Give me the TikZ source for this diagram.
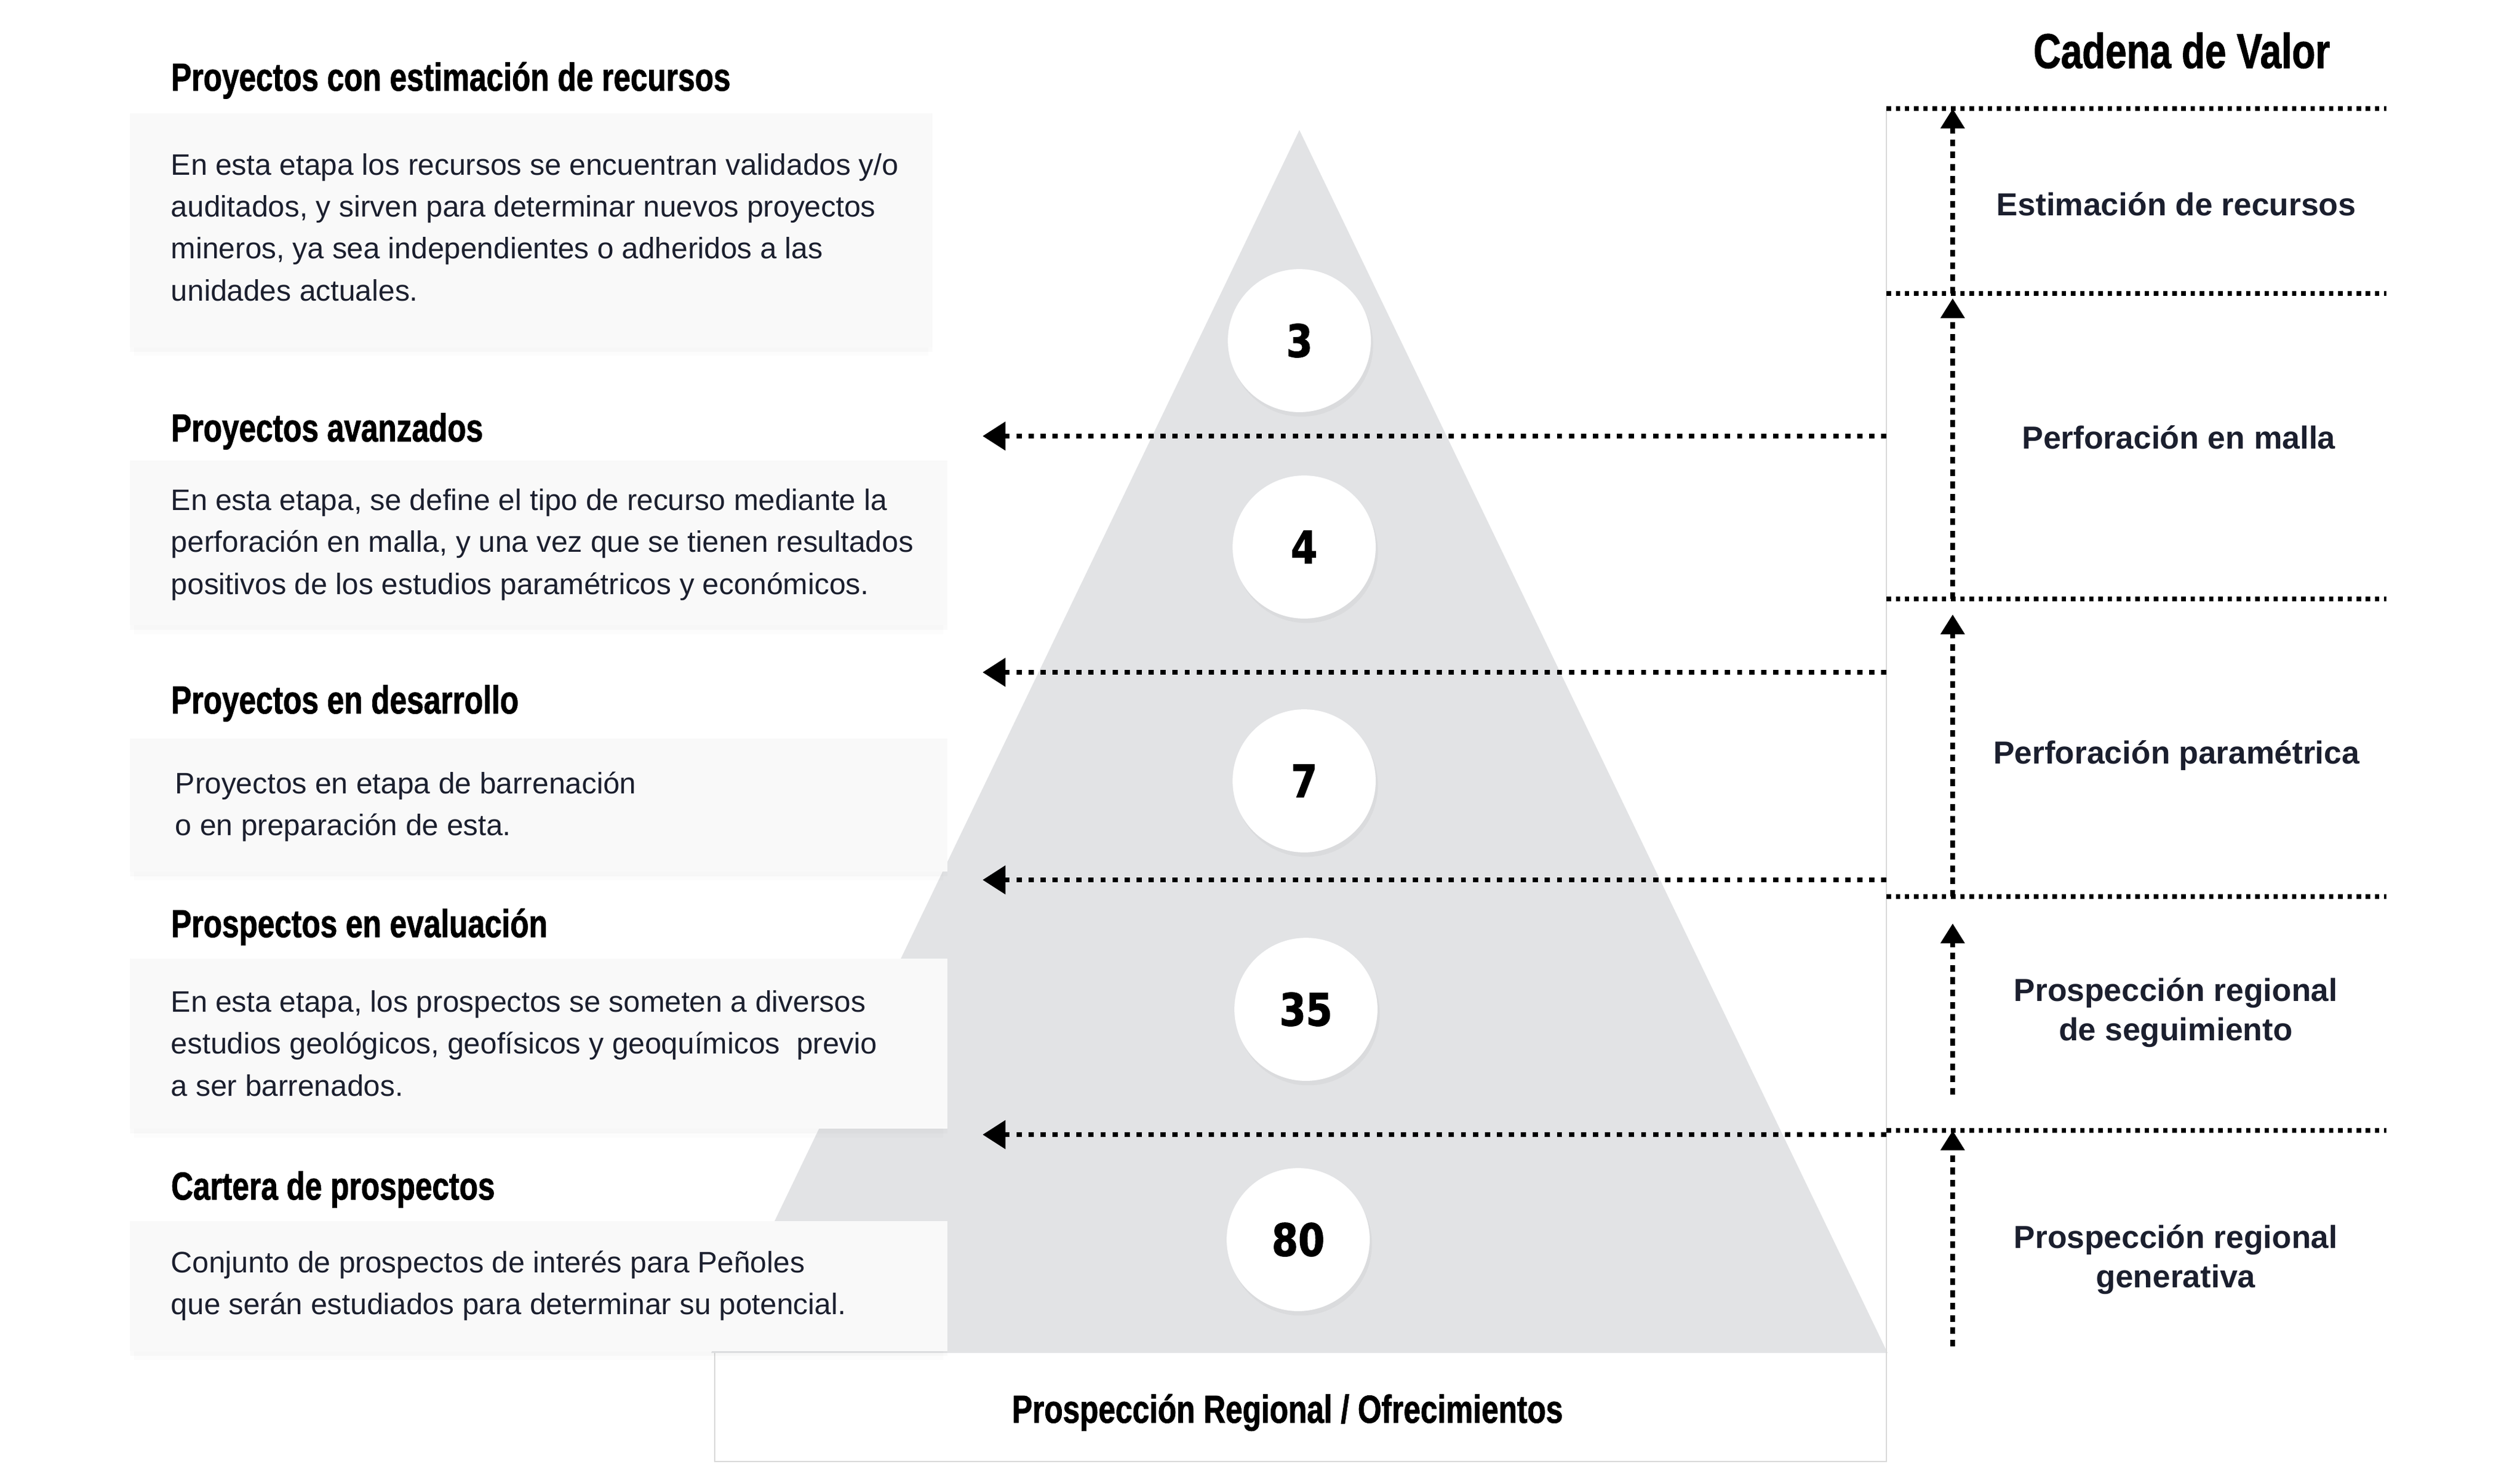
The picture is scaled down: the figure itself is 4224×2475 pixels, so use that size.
\documentclass[tikz,border=0pt]{standalone}
\usepackage{fontspec}
\setmainfont{Liberation Sans}
\newfontfamily\headfont[FakeStretch=0.78,FakeBold=1.2]{Liberation Sans Bold}
\newfontfamily\numfont[FakeStretch=0.85,FakeBold=1.5]{DejaVu Sans Bold}
\usetikzlibrary{arrows.meta,shadows}

\definecolor{pyrgray}{HTML}{E2E3E5}
\definecolor{cardfill}{HTML}{F9F9F9}
\definecolor{linegray}{HTML}{D8D8D8}
\definecolor{navy}{HTML}{1B1F2E}

\tikzset{
	heading/.style={anchor=base west, inner sep=0pt, font=\headfont\fontsize{14}{16}\selectfont},
	cardbox/.style={fill=cardfill,
		drop shadow={shadow xshift=0pt, shadow yshift=-3.5pt, shadow scale=0.99, opacity=0.025},
		drop shadow={shadow xshift=0pt, shadow yshift=-1.8pt, opacity=0.04}},
	cardtext/.style={anchor=west, inner sep=0pt, align=left, text=navy, font=\fontsize{10.6}{15}\selectfont},
	numcircle/.style={circle, fill=white, minimum size=1.8cm, inner sep=0pt, font=\numfont\fontsize{16}{18}\selectfont,
		drop shadow={shadow xshift=0.8pt, shadow yshift=-1.6pt, opacity=0.08}},
	stagelabel/.style={align=center, inner sep=0pt, text=navy, font=\bfseries\fontsize{11.4}{14.1}\selectfont},
	leftarrow/.style={line width=1.64pt, dash pattern=on 1.9pt off 2.4pt, -{Triangle[length=8.2pt,width=10pt]}},
	stageline/.style={line width=1.64pt, dash pattern=on 1.6pt off 1.7pt},
	uparrow/.style={line width=1.7pt, dash pattern=on 2.4pt off 2pt, -{Triangle[length=7.1pt,width=8.3pt]}}
}

\begin{document}
\begin{tikzpicture}[x=0.0075cm, y=-0.0075cm]

	\useasboundingbox (0,0) rectangle (4224,2475);

	\fill[pyrgray] (2178,218) -- (3164,2268) -- (1192,2268) -- cycle;
	\draw[linegray, line width=0.6pt] (1198,2268) |- (3162,2450) -- (3162,182);

	\fill[cardbox] (218,190) rectangle (1563,582);
	\fill[cardbox] (218,772) rectangle (1588,1048);
	\fill[cardbox] (218,1238) rectangle (1588,1461);
	\fill[cardbox] (218,1607) rectangle (1588,1892);
	\fill[cardbox] (218,2047) rectangle (1588,2265);

	\node[heading] (h1) at (286,152) {Proyectos con estimación de recursos};
	\node[heading] (h2) at (286,740) {Proyectos avanzados};
	\node[heading] (h3) at (286,1196) {Proyectos en desarrollo};
	\node[heading] (h4) at (286,1571) {Prospectos en evaluación};
	\node[heading] (h5) at (286,2011) {Cartera de prospectos};

	\node[cardtext] (p1) at (286,381) {En esta etapa los recursos se encuentran validados y/o\\auditados, y sirven para determinar nuevos proyectos\\mineros, ya sea independientes o adheridos a las\\unidades actuales.};
	\node[cardtext] (p2) at (286,913) {En esta etapa, se define el tipo de recurso mediante la\\perforación en malla, y una vez que se tienen resultados\\positivos de los estudios paramétricos y económicos.};
	\node[cardtext] (p3) at (293,1352) {Proyectos en etapa de barrenación\\o en preparación de esta.};
	\node[cardtext] (p4) at (286,1749) {En esta etapa, los prospectos se someten a diversos\\estudios geológicos, geofísicos y geoquímicos~ previo\\a ser barrenados.};
	\node[cardtext] (p5) at (286,2155) {Conjunto de prospectos de interés para Peñoles\\que serán estudiados para determinar su potencial.};

	\node[numcircle] (c3) at (2178,571) {3};
	\node[numcircle] (c4) at (2186,917) {4};
	\node[numcircle] (c7) at (2186,1309) {7};
	\node[numcircle] (c35) at (2189,1692) {35};
	\node[numcircle] (c80) at (2176,2078) {80};

	\node[anchor=base, inner sep=0pt, font=\headfont\fontsize{14}{16}\selectfont] (base) at (2158,2385) {Prospección Regional / Ofrecimientos};
	\node[anchor=base, inner sep=0pt, font=\headfont\fontsize{17.5}{20}\selectfont] (title) at (3657,114) {Cadena de Valor};

	\coordinate (m1) at (3162,731);
	\coordinate (m2) at (3162,1127);
	\coordinate (m3) at (3162,1475);
	\coordinate (m4) at (3162,1902);
	\coordinate (t1) at (1647,731);
	\coordinate (t2) at (1647,1127);
	\coordinate (t3) at (1647,1475);
	\coordinate (t4) at (1647,1902);

	\draw[leftarrow] (m1) -- (t1);
	\draw[leftarrow] (m2) -- (t2);
	\draw[leftarrow] (m3) -- (t3);
	\draw[leftarrow] (m4) -- (t4);

	\coordinate (s1) at (3162,182);
	\coordinate (s2) at (3162,492);
	\coordinate (s3) at (3162,1004);
	\coordinate (s4) at (3162,1503);
	\coordinate (s5) at (3162,1895);
	\coordinate (e1) at (4000,182);
	\coordinate (e2) at (4000,492);
	\coordinate (e3) at (4000,1004);
	\coordinate (e4) at (4000,1503);
	\coordinate (e5) at (4000,1895);

	\draw[stageline] (s1) -- (e1);
	\draw[stageline] (s2) -- (e2);
	\draw[stageline] (s3) -- (e3);
	\draw[stageline] (s4) -- (e4);
	\draw[stageline] (s5) -- (e5);

	\coordinate (u1) at (3273,492);
	\coordinate (v1) at (3273,182);
	\coordinate (u2) at (3273,1004);
	\coordinate (v2) at (3273,500);
	\coordinate (u3) at (3273,1503);
	\coordinate (v3) at (3273,1030);
	\coordinate (u4) at (3273,1835);
	\coordinate (v4) at (3273,1548);
	\coordinate (u5) at (3273,2257);
	\coordinate (v5) at (3273,1895);

	\draw[uparrow] (u1) -- (v1);
	\draw[uparrow] (u2) -- (v2);
	\draw[uparrow] (u3) -- (v3);
	\draw[uparrow] (u4) -- (v4);
	\draw[uparrow] (u5) -- (v5);

	\node[stagelabel] (l1) at (3648,342) {Estimación de recursos};
	\node[stagelabel] (l2) at (3652,733) {Perforación en malla};
	\node[stagelabel] (l3) at (3648,1266) {Perforación paramétrica};
	\node[stagelabel] (l4) at (3647,1698) {Prospección regional\\de seguimiento};
	\node[stagelabel] (l5) at (3647,2112) {Prospección regional\\generativa};

\end{tikzpicture}
\end{document}
